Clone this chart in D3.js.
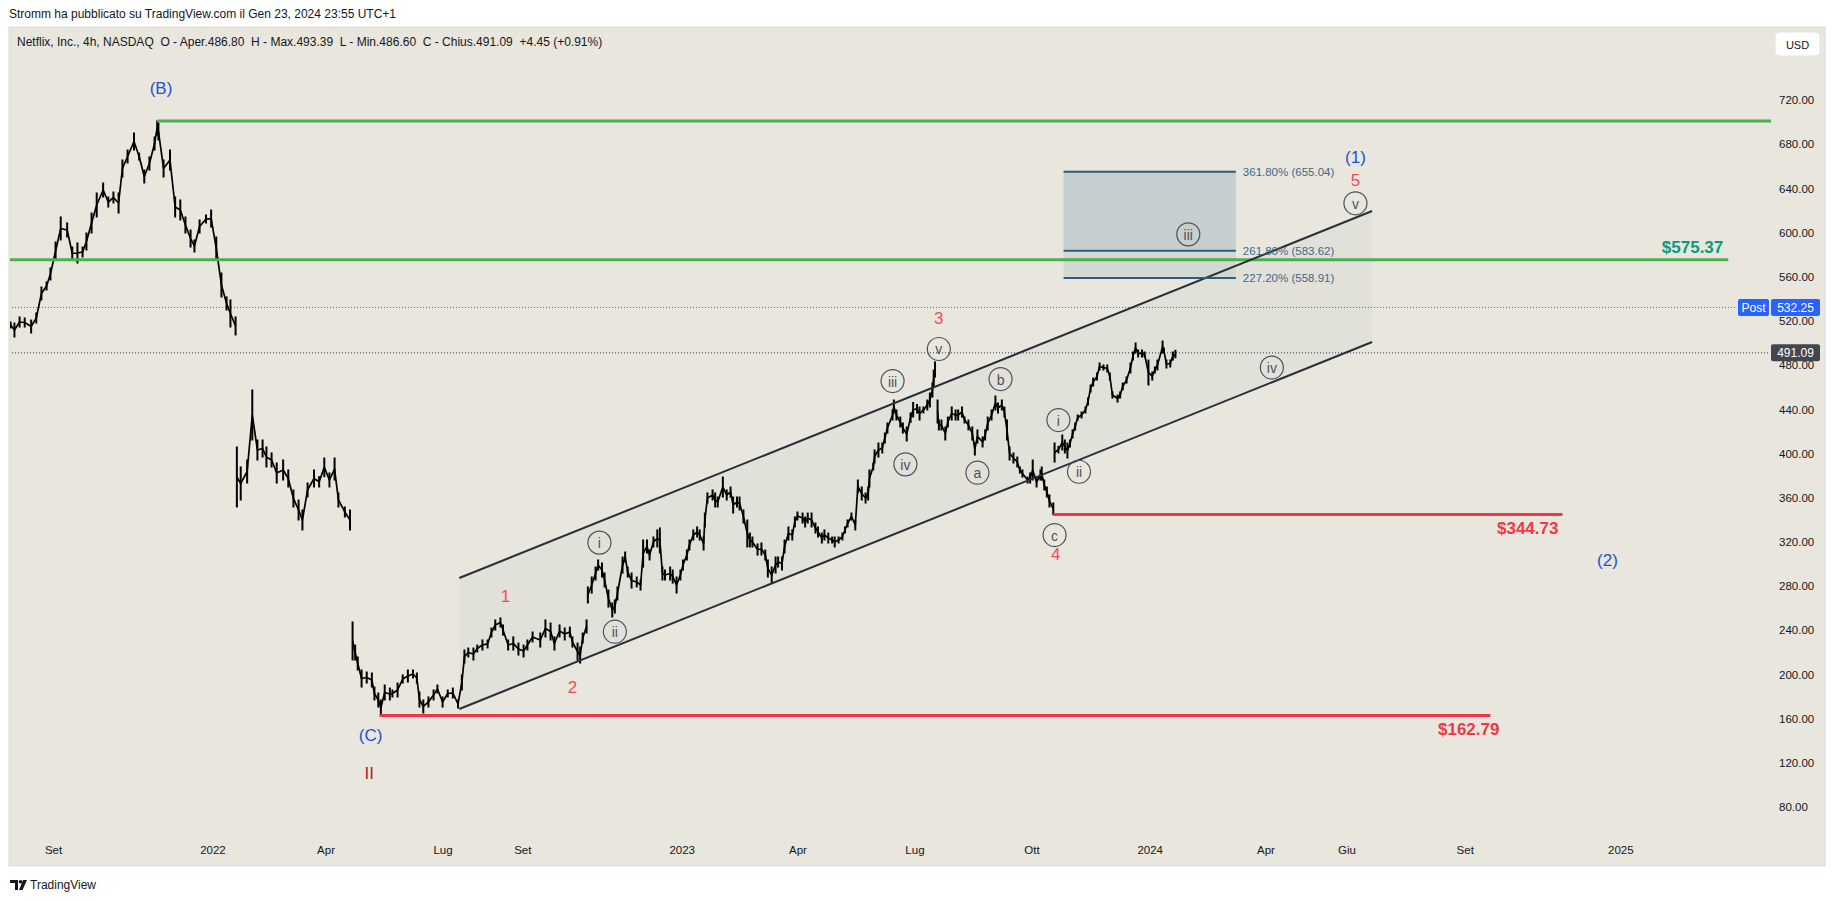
<!DOCTYPE html>
<html><head><meta charset="utf-8">
<script src="https://cdn.jsdelivr.net/npm/d3@7"></script>
<style>
html,body{margin:0;padding:0;background:#fff;}
svg{display:block;}
text{font-family:"Liberation Sans",Arial,sans-serif;}
</style></head><body>
<svg id="c" width="1835" height="901"></svg>
<script>
// ---------------- DATA ----------------
const barDates = [
"2021-07-30","2021-08-02","2021-08-06","2021-08-10","2021-08-15","2021-08-19","2021-08-23","2021-08-27","2021-08-30","2021-09-03",
"2021-09-07","2021-09-12","2021-09-16","2021-09-20","2021-09-24","2021-09-27","2021-10-01","2021-10-05","2021-10-10","2021-10-14",
"2021-10-18","2021-10-22","2021-10-25","2021-10-29","2021-11-03","2021-11-07","2021-11-11","2021-11-15","2021-11-19","2021-11-21",
"2021-11-22","2021-11-26","2021-12-01","2021-12-05","2021-12-09","2021-12-13","2021-12-17","2021-12-20","2021-12-24","2021-12-29",
"2022-01-02","2022-01-06","2022-01-10","2022-01-14","2022-01-17","2022-01-21",
"2022-01-22","2022-01-25","2022-01-30","2022-02-03","2022-02-07","2022-02-11","2022-02-14","2022-02-18","2022-02-22","2022-02-27",
"2022-03-03","2022-03-07","2022-03-11","2022-03-14","2022-03-18","2022-03-23","2022-03-27","2022-03-31","2022-04-04","2022-04-08",
"2022-04-11","2022-04-16","2022-04-20",
"2022-04-22","2022-04-24","2022-04-26","2022-04-29","2022-05-03","2022-05-07","2022-05-09","2022-05-12","2022-05-14","2022-05-17",
"2022-05-21","2022-05-23","2022-05-27","2022-05-31","2022-06-04","2022-06-08","2022-06-11","2022-06-13","2022-06-16","2022-06-20",
"2022-06-24","2022-06-27","2022-07-01","2022-07-05","2022-07-09","2022-07-13","2022-07-16","2022-07-18","2022-07-21","2022-07-25",
"2022-07-28","2022-08-01","2022-08-05","2022-08-08","2022-08-11","2022-08-15","2022-08-17","2022-08-21","2022-08-25","2022-08-29",
"2022-09-02","2022-09-05","2022-09-09",
"2022-09-15","2022-09-19","2022-09-23","2022-09-26","2022-09-30","2022-10-04","2022-10-08","2022-10-10","2022-10-14","2022-10-16",
"2022-10-18","2022-10-21","2022-10-22","2022-10-25","2022-10-28","2022-10-30","2022-11-02","2022-11-04","2022-11-07","2022-11-10",
"2022-11-12","2022-11-14","2022-11-18","2022-11-20","2022-11-22","2022-11-25","2022-11-29","2022-12-02","2022-12-04","2022-12-07",
"2022-12-09","2022-12-12","2022-12-15","2022-12-17","2022-12-19","2022-12-21","2022-12-25","2022-12-27","2022-12-30","2023-01-02",
"2023-01-04","2023-01-07","2023-01-09","2023-01-12","2023-01-15","2023-01-17","2023-01-20","2023-01-21","2023-01-23","2023-01-27",
"2023-01-29","2023-01-31","2023-02-04","2023-02-07","2023-02-10","2023-02-12","2023-02-15","2023-02-17","2023-02-20","2023-02-23",
"2023-02-25","2023-02-27","2023-03-03","2023-03-06","2023-03-09","2023-03-11",
"2023-03-14","2023-03-17","2023-03-19","2023-03-22","2023-03-24","2023-03-27","2023-03-30","2023-04-01","2023-04-03","2023-04-07",
"2023-04-09","2023-04-11","2023-04-14","2023-04-17","2023-04-19","2023-04-22","2023-04-24","2023-04-27","2023-04-30","2023-05-02",
"2023-05-05","2023-05-08","2023-05-10","2023-05-12","2023-05-15","2023-05-18","2023-05-20","2023-05-23","2023-05-26","2023-05-28",
"2023-05-29","2023-06-01","2023-06-02","2023-06-05","2023-06-08","2023-06-10","2023-06-12","2023-06-16","2023-06-17","2023-06-19",
"2023-06-22","2023-06-24","2023-06-27","2023-06-30","2023-07-02","2023-07-05","2023-07-07","2023-07-10","2023-07-13","2023-07-15",
"2023-07-17","2023-07-18","2023-07-19","2023-07-21","2023-07-22","2023-07-24","2023-07-27","2023-07-29","2023-08-01","2023-08-04",
"2023-08-06","2023-08-09","2023-08-11","2023-08-14","2023-08-17","2023-08-19","2023-08-21","2023-08-25","2023-08-27","2023-08-29",
"2023-09-01","2023-09-04","2023-09-06","2023-09-09","2023-09-11","2023-09-13","2023-09-15","2023-09-18","2023-09-21","2023-09-23",
"2023-09-25","2023-09-29","2023-10-01","2023-10-03","2023-10-06","2023-10-09","2023-10-10","2023-10-12","2023-10-14","2023-10-16",
"2023-10-19",
"2023-10-20","2023-10-23","2023-10-26","2023-10-28","2023-10-30","2023-11-01","2023-11-03","2023-11-05","2023-11-07","2023-11-10",
"2023-11-13","2023-11-15","2023-11-17","2023-11-19","2023-11-22","2023-11-24","2023-11-27","2023-11-30","2023-12-02","2023-12-04",
"2023-12-08","2023-12-10","2023-12-12","2023-12-15","2023-12-18","2023-12-20","2023-12-22","2023-12-24","2023-12-27","2023-12-29",
"2024-01-01","2024-01-04","2024-01-06","2024-01-08","2024-01-12","2024-01-13","2024-01-15","2024-01-18","2024-01-20","2024-01-22"
];
const barHighs = [
519.0,518.1,523.6,522.7,520.8,527.2,550.7,555.3,567.9,591.5,
614.1,608.7,586.9,590.6,586.9,599.6,617.7,635.8,644.9,632.2,
636.7,635.8,665.7,674.7,690.1,671.9,656.6,668.4,686.5,701.0,
699.2,665.7,674.7,632.2,629.5,614.1,602.3,593.3,611.4,615.9,
620.4,596.0,563.4,541.7,539.0,523.6,
405.9,387.8,394.1,457.5,412.2,412.2,405.9,400.5,391.4,394.1,
385.1,367.0,357.9,348.9,373.3,385.1,379.0,395.9,382.4,395.9,
364.3,351.6,348.9,
247.5,226.6,215.8,204.0,202.2,201.3,188.6,183.2,176.9,190.4,
187.7,185.9,192.2,199.5,204.0,204.0,201.3,184.1,176.9,179.6,
185.9,190.4,179.6,185.9,187.7,176.9,199.5,222.1,223.9,223.9,
226.6,231.2,231.2,242.0,249.3,251.1,244.8,231.2,234.0,228.4,
226.6,231.2,238.4,
237.5,249.3,246.5,234.0,244.8,242.0,242.9,233.9,228.4,224.8,
237.5,249.3,279.2,288.2,297.2,303.6,300.9,291.8,276.4,264.7,
267.4,279.2,306.3,310.8,297.2,291.8,288.2,285.5,321.7,321.7,
312.6,324.4,330.8,332.6,297.2,294.5,297.2,294.5,288.2,294.5,
303.6,312.6,321.7,330.8,333.5,330.8,324.4,346.1,364.3,367.0,
364.3,360.6,378.7,367.0,369.7,360.6,360.6,360.6,348.9,339.8,
328.0,324.4,318.1,319.0,312.6,303.6,
297.2,306.3,306.3,306.3,321.7,333.5,330.8,342.5,347.0,346.1,
342.5,346.1,346.1,337.1,333.5,328.0,330.8,328.0,324.4,324.4,
324.4,328.0,333.5,339.8,346.1,339.8,376.0,369.7,364.3,369.7,
385.1,391.4,403.2,409.5,409.5,418.5,427.6,439.4,448.4,439.4,
433.0,427.6,424.0,436.7,446.2,444.4,442.1,442.1,448.4,454.8,
463.8,475.6,482.8,448.4,430.3,430.3,424.0,433.0,442.1,439.4,
439.4,442.1,433.0,430.3,424.0,409.5,421.3,415.0,421.3,433.0,
439.4,452.0,445.7,448.4,442.1,430.3,405.9,400.5,396.8,387.8,
385.1,378.7,382.4,394.1,378.7,385.1,387.8,376.0,369.7,362.4,
355.2,
409.5,406.4,416.7,412.2,409.5,412.2,421.3,427.6,434.9,437.6,
442.1,450.2,462.0,468.3,472.9,481.9,480.1,480.1,472.9,455.7,
453.0,455.7,463.8,469.3,481.9,491.9,500.0,493.7,493.7,491.9,
484.6,473.8,478.3,484.6,501.8,495.5,484.6,484.6,491.9,493.4
];
const barLows = [
513.6,505.5,514.5,514.5,509.1,518.1,539.0,548.0,557.1,575.2,
593.3,596.0,575.2,572.4,577.9,584.2,599.6,614.1,632.2,623.1,
626.8,617.7,650.3,663.0,674.7,665.7,644.9,656.6,674.7,688.3,
683.8,650.3,656.6,614.1,611.4,599.6,586.9,582.4,599.6,608.7,
605.0,575.2,541.7,529.9,514.5,507.3,
351.6,357.9,373.3,412.2,394.1,396.8,387.8,387.8,373.3,376.0,
369.7,351.6,339.8,330.8,360.6,369.7,369.7,379.0,369.7,376.0,
351.6,342.5,330.8,
213.1,213.1,204.0,188.6,192.2,188.6,176.9,170.5,162.8,176.9,
176.9,179.6,179.6,192.2,193.1,196.8,192.2,170.5,165.1,170.5,
176.9,183.2,170.5,179.6,178.7,169.6,185.9,210.3,215.8,213.1,
220.3,222.1,224.0,233.9,240.2,243.0,235.7,222.1,222.1,217.6,
215.8,222.1,229.4,
224.8,233.9,231.2,222.1,233.9,231.2,233.9,224.8,213.1,210.3,
228.4,237.5,264.7,273.7,285.5,294.5,288.2,279.2,261.0,252.0,
255.6,267.4,291.8,301.8,288.2,278.2,279.2,276.4,297.2,310.0,
303.6,315.4,315.4,310.0,285.5,285.5,285.5,282.7,273.7,285.5,
294.5,303.6,312.6,321.7,324.4,321.7,312.6,333.5,355.2,357.9,
351.6,351.6,360.6,357.9,360.6,346.1,351.6,348.9,337.1,315.4,
315.4,315.4,308.1,308.1,303.6,288.2,
282.7,291.8,297.2,294.5,310.0,321.7,321.7,333.5,339.8,337.1,
333.5,337.1,333.5,328.0,324.4,319.0,321.7,319.0,319.0,315.4,
319.0,321.7,328.0,333.5,339.8,330.8,364.3,357.9,355.2,357.9,
369.7,385.1,391.4,396.8,400.5,409.5,418.5,430.3,436.7,430.3,
424.0,418.5,411.3,428.1,433.0,436.7,430.3,436.7,439.4,442.1,
451.1,460.2,469.3,427.6,421.3,421.3,412.2,424.0,430.3,430.3,
430.3,433.0,427.6,421.3,412.2,398.6,409.5,405.9,412.2,421.3,
430.3,439.4,436.7,439.4,433.0,412.2,394.1,391.4,387.8,382.3,
378.7,373.3,373.3,376.0,369.7,376.0,376.0,367.0,360.6,351.6,
344.7,
392.3,400.5,403.2,400.5,395.9,405.9,414.0,421.3,430.3,432.1,
436.7,443.9,455.7,461.1,466.5,475.6,475.6,473.8,466.5,450.2,
446.6,450.2,457.5,463.8,472.9,484.6,491.0,487.4,487.4,487.4,
462.0,466.5,472.9,475.6,491.0,491.0,477.4,478.3,484.6,486.6
];
// bars that opened with a price gap (no joining stroke before them)
const gapDates = ["2022-01-22","2022-04-22","2022-10-22","2023-07-21","2023-10-20"];

const yTicks = [80,120,160,200,240,280,320,360,400,440,480,520,560,600,640,680,720];
const xTickDates = ["2021-09-01","2022-01-03","2022-04-01","2022-07-01","2022-09-01","2023-01-03","2023-04-03","2023-07-03","2023-10-02","2024-01-02","2024-04-01","2024-06-03","2024-09-03","2025-01-02"];
const xTickLabels = ["Set","2022","Apr","Lug","Set","2023","Apr","Lug","Ott","2024","Apr","Giu","Set","2025"];

// horizontal levels
const levelPrices = [700.99, 575.37, 344.73, 162.79];
const levelStarts = ["2021-11-21","2021-06-01","2023-10-19","2022-05-13"];
const levelEnds   = ["2025-06-30","2025-03-27","2024-11-18","2024-09-23"];
const levelColors = ["#4caf50","#4caf50","#f23645","#f23645"];
const levelTexts  = ["","$575.37","$344.73","$162.79"];
const levelTextColors = ["","#089981","#f23645","#f23645"];

// parallel channel
const chanDates = ["2022-07-14","2024-06-23"];
const chanUpper = [287.3, 619.5];
const chanLower = [168.7, 500.9];

// fib extension box
const fibDates = ["2023-10-27","2024-03-09"];
const fibLevels = [655.04, 583.62, 558.91];
const fibPct = ["361.80%","261.80%","227.20%"];

// last prices
const postPrice = 532.25;
const lastPrice = 491.09;

// Elliott wave labels
const waveTexts = ["(B)","(C)","II","1","2","i","ii","iii","iv","v","3","a","b","c","4","i","ii","iii","iv","v","5","(1)","(2)"];
const waveDates = ["2021-11-24","2022-05-06","2022-05-05","2022-08-19","2022-10-10","2022-10-31","2022-11-12","2023-06-16","2023-06-26","2023-07-22","2023-07-22","2023-08-21","2023-09-08","2023-10-20","2023-10-21","2023-10-23","2023-11-08","2024-02-01","2024-04-06","2024-06-10","2024-06-10","2024-06-10","2024-12-23"];
const wavePrices = [730.0,144.3,109.9,270.1,188.6,319.3,238.7,465.6,390.2,494.6,522.4,382.6,467.4,326.2,308.4,430.3,383.5,598.4,477.8,626.5,646.9,668.1,303.0];
const waveKinds = ["blue","blue","dark","red","red","circ","circ","circ","circ","circ","red","circ","circ","circ","red","circ","circ","circ","circ","circ","red","blue","blue"];

// ---------------- DRAW ----------------
const parse = d3.utcParse("%Y-%m-%d");
const svg = d3.select("#c");
const BG = "#e9e6dd";
const pane = {l:9, r:1825, t:27, b:866, plotR:1771};

const x = d3.scaleUtc().domain([parse("2021-09-01"), parse("2025-01-01")]).range([53, 1619]);
const y = d3.scaleLinear().domain([80, 720]).range([807, 100]);

svg.append("rect").attr("width",1835).attr("height",901).attr("fill","#ffffff");
svg.append("rect").attr("x",pane.l).attr("y",pane.t).attr("width",pane.r-pane.l).attr("height",pane.b-pane.t)
   .attr("fill",BG).attr("stroke","#dedcd6").attr("stroke-width",1);

const defs = svg.append("defs");
defs.append("clipPath").attr("id","plot").append("rect")
   .attr("x",pane.l+1).attr("y",pane.t+1).attr("width",pane.plotR-pane.l-1).attr("height",pane.b-pane.t-2);

svg.append("text").attr("x",9).attr("y",14).attr("dominant-baseline","central")
   .attr("font-size",12).attr("fill","#131722")
   .text("Stromm ha pubblicato su TradingView.com il Gen 23, 2024 23:55 UTC+1");
svg.append("text").attr("x",17).attr("y",42).attr("dominant-baseline","central")
   .attr("font-size",12).attr("fill","#131722").attr("xml:space","preserve")
   .text("Netflix, Inc., 4h, NASDAQ  O - Aper.486.80  H - Max.493.39  L - Min.486.60  C - Chius.491.09  +4.45 (+0.91%)");

const g = svg.append("g").attr("clip-path","url(#plot)");

// channel fill
const cx0 = x(parse(chanDates[0])), cx1 = x(parse(chanDates[1]));
g.append("path")
  .attr("d", d3.line()([[cx0,y(chanUpper[0])],[cx1,y(chanUpper[1])],[cx1,y(chanLower[1])],[cx0,y(chanLower[0])]]) + "Z")
  .attr("fill","#e2e1d9");

// fib fills
const fx0 = x(parse(fibDates[0])), fx1 = x(parse(fibDates[1]));
g.append("rect").attr("x",fx0).attr("y",y(fibLevels[0])).attr("width",fx1-fx0).attr("height",y(fibLevels[1])-y(fibLevels[0]))
  .attr("fill","#c6cfcf");
g.append("rect").attr("x",fx0).attr("y",y(fibLevels[1])).attr("width",fx1-fx0).attr("height",y(fibLevels[2])-y(fibLevels[1]))
  .attr("fill","#d4d8d3");

// dotted price lines
g.append("line").attr("x1",pane.l).attr("x2",1737).attr("y1",y(postPrice)).attr("y2",y(postPrice))
  .attr("stroke","#2962ff").attr("stroke-width",1).attr("stroke-dasharray","1,2");
g.append("line").attr("x1",pane.l).attr("x2",1769).attr("y1",y(lastPrice)).attr("y2",y(lastPrice))
  .attr("stroke","#363a45").attr("stroke-width",1).attr("stroke-dasharray","1,2");

// price bars
const bars = barDates.map((d,i)=>({t:parse(d), h:barHighs[i], l:barLows[i], gap: gapDates.includes(d)}));
g.append("g").selectAll("line").data(bars).join("line")
  .attr("x1",d=>x(d.t)).attr("x2",d=>x(d.t))
  .attr("y1",d=>y(d.h)-0.5).attr("y2",d=>y(d.l)+0.5)
  .attr("stroke","#000").attr("stroke-width",2);
// joining strokes between consecutive bars
const segs = [];
let cur = [];
bars.forEach(b=>{ if (b.gap && cur.length){ segs.push(cur); cur=[]; } cur.push(b); });
segs.push(cur);
const midLine = d3.line().x(d=>x(d.t)).y(d=>y((d.h+d.l)/2));
g.append("g").selectAll("path").data(segs).join("path")
  .attr("d",midLine).attr("fill","none").attr("stroke","#000").attr("stroke-width",1.7).attr("stroke-linejoin","round");

// horizontal levels
levelPrices.forEach((p,i)=>{
  g.append("line").attr("x1",x(parse(levelStarts[i]))).attr("x2",Math.min(x(parse(levelEnds[i])),pane.plotR))
   .attr("y1",y(p)).attr("y2",y(p)).attr("stroke",levelColors[i]).attr("stroke-width",3);
});
const labelShift = [0,-5,-4,9];
levelPrices.forEach((p,i)=>{
  if(!levelTexts[i]) return;
  const above = i===1;
  svg.append("text").attr("x",x(parse(levelEnds[i]))+labelShift[i]).attr("y",y(p)+(above?-12:14))
   .attr("text-anchor","end").attr("dominant-baseline","central")
   .attr("font-size",17).attr("font-weight","bold").attr("fill",levelTextColors[i]).text(levelTexts[i]);
});

// channel lines
[chanUpper, chanLower].forEach(arr=>{
  g.append("line").attr("x1",cx0).attr("x2",cx1).attr("y1",y(arr[0])).attr("y2",y(arr[1]))
   .attr("stroke","#2a2e39").attr("stroke-width",2);
});

// fib lines + labels
fibLevels.forEach((p,i)=>{
  g.append("line").attr("x1",fx0).attr("x2",fx1).attr("y1",y(p)).attr("y2",y(p))
   .attr("stroke","#2e5d7d").attr("stroke-width",2);
  svg.append("text").attr("x",fx1+7).attr("y",y(p)).attr("dominant-baseline","central")
   .attr("font-size",11.5).attr("fill","#3a6a8a").text(fibPct[i]+" ("+p.toFixed(2)+")");
});

// wave labels
const waveColor = {blue:"#1f4fd6", red:"#f04b59", dark:"#b2222d", circ:"#4e515b"};
waveTexts.forEach((t,i)=>{
  const px = x(parse(waveDates[i])), py = y(wavePrices[i]), k = waveKinds[i];
  if(k==="circ"){
    svg.append("circle").attr("cx",px).attr("cy",py).attr("r",11.5)
      .attr("fill","none").attr("stroke",waveColor.circ).attr("stroke-width",1.2);
    svg.append("text").attr("x",px).attr("y",py+0.5).attr("text-anchor","middle").attr("dominant-baseline","central")
      .attr("font-size",14).attr("fill",waveColor.circ).text(t);
  } else {
    svg.append("text").attr("x",px).attr("y",py).attr("text-anchor","middle").attr("dominant-baseline","central")
      .attr("font-size",17).attr("fill",waveColor[k]).text(t);
  }
});

// price axis
const yAxis = d3.axisRight(y).tickValues(yTicks).tickFormat(d3.format(".2f")).tickSize(0).tickPadding(0);
const ya = svg.append("g").attr("transform","translate(1779,0)").call(yAxis);
ya.select(".domain").remove();
ya.selectAll("text").attr("font-size",11.5).attr("fill","#131722").attr("font-family","Liberation Sans, Arial, sans-serif");

// time axis
const xAxis = d3.axisBottom(x).tickValues(xTickDates.map(parse)).tickFormat((d,i)=>xTickLabels[i]).tickSize(0).tickPadding(0);
const xa = svg.append("g").attr("transform","translate(0,846)").call(xAxis);
xa.select(".domain").remove();
xa.selectAll("text").attr("font-size",11.5).attr("fill","#131722").attr("font-family","Liberation Sans, Arial, sans-serif");

// USD box
svg.append("rect").attr("x",1775).attr("y",32).attr("width",45).attr("height",24).attr("rx",4)
  .attr("fill","#ffffff").attr("stroke","#e0e3eb");
svg.append("text").attr("x",1797.5).attr("y",44.5).attr("text-anchor","middle").attr("dominant-baseline","central")
  .attr("font-size",11).attr("fill","#131722").text("USD");

// price tags
function tag(x0,w,price,fill,label){
  const cy = y(price);
  svg.append("rect").attr("x",x0).attr("y",cy-8.5).attr("width",w).attr("height",17).attr("rx",2).attr("fill",fill);
  svg.append("text").attr("x",x0+w/2).attr("y",cy+0.5).attr("text-anchor","middle").attr("dominant-baseline","central")
    .attr("font-size",12).attr("fill","#ffffff").text(label);
}
tag(1738,31,postPrice,"#2962ff","Post");
tag(1771,49,postPrice,"#2962ff",postPrice.toFixed(2));
tag(1771,49,lastPrice,"#434651",lastPrice.toFixed(2));

// TradingView logo
const logo = svg.append("g").attr("transform","translate(10,880)");
logo.append("path").attr("d","M0,0H8V10H5V3H0Z").attr("fill","#131722");
logo.append("circle").attr("cx",10.5).attr("cy",1.8).attr("r",1.8).attr("fill","#131722");
logo.append("path").attr("d","M13,0H17L12.5,10H9Z").attr("fill","#131722");
svg.append("text").attr("x",30).attr("y",885).attr("dominant-baseline","central")
  .attr("font-size",12).attr("fill","#131722").text("TradingView");
</script>
</body></html>
